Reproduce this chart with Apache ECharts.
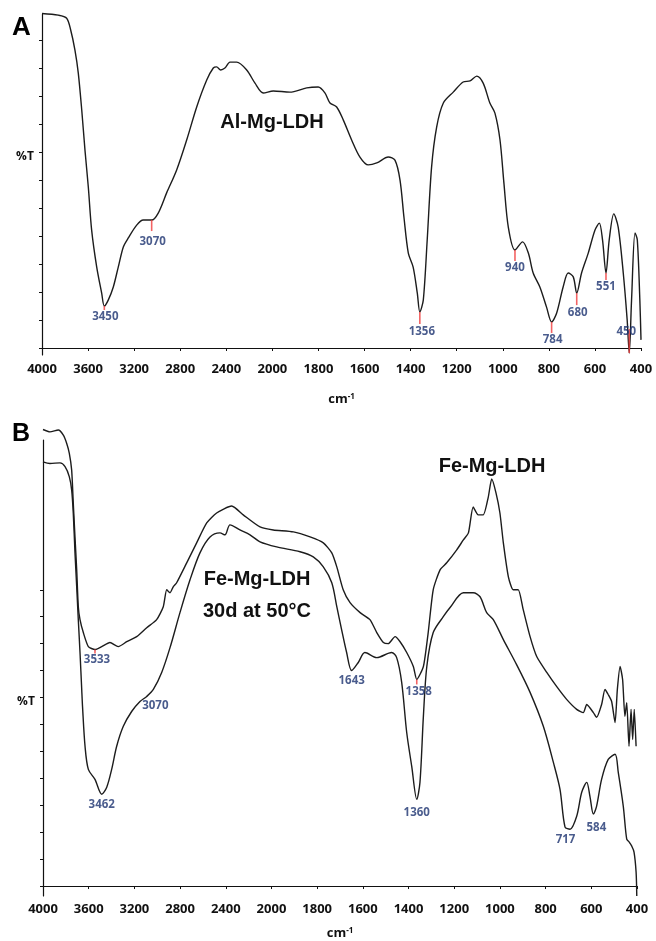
<!DOCTYPE html>
<html>
<head>
<meta charset="utf-8">
<script src="https://cdn.jsdelivr.net/npm/echarts@6/dist/echarts.min.js"></script>
<style>
  html, body { margin: 0; padding: 0; background: #fff; }
  #chart { width: 656px; height: 941px; }
</style>
</head>
<body>
<div id="chart"></div>
<script>
// wavenumber ticks (the axis is stretched x2 below 2000 cm-1)
var tickLabels = [4000, 3600, 3200, 2800, 2400, 2000, 1800, 1600, 1400, 1200, 1000, 800, 600, 400]
var yTicks = [0, 10, 20, 30, 40, 50, 60, 70, 80, 90, 100, 110]

// A: Al-Mg-LDH
var alWn = [4000, 3859, 3786, 3751, 3714, 3685, 3655, 3627, 3598, 3569, 3525, 3482, 3459, 3425, 3381, 3338, 3294, 3251, 3178, 3121,
  3048, 2991, 2918, 2831, 2744, 2657, 2570, 2513, 2484, 2449, 2412, 2368, 2310, 2223, 2151, 2079, 1996, 1924, 1851, 1801,
  1772, 1750, 1721, 1692, 1656, 1620, 1584, 1547, 1497, 1468, 1446, 1429, 1410, 1389, 1371, 1360, 1345, 1328, 1309, 1287,
  1258, 1215, 1172, 1142, 1113, 1085, 1056, 1034, 1012, 995, 976, 947, 914, 889, 868, 839, 810, 788, 766, 738,
  716, 694, 679, 658, 629, 600, 581, 567, 552, 538, 518, 499, 477, 460, 451, 441, 426, 416, 405, 400]
var alT = [119.5, 118.9, 117.8, 113.6, 106.4, 98.2, 85, 70.7, 57.5, 42.1, 28.9, 19.6, 15, 17.1, 21.8, 28.9, 36.1, 39.3, 43.9, 45.7,
  45.7, 48.2, 55.4, 63.6, 74.3, 86.1, 95.7, 100, 100.4, 99.3, 100, 102.1, 102.1, 99.3, 94.6, 91.1, 91.8, 91.4, 92.9, 93.2,
  91.1, 87.5, 86.1, 81.4, 74.3, 68.2, 65.4, 66.1, 68.2, 67.1, 60, 46.8, 33.9, 28.9, 19.6, 12.9, 17.1, 38.6, 64.6, 78.9,
  87.5, 91.4, 95, 95.4, 97.1, 94.6, 87.5, 83.9, 74.3, 58.9, 43.2, 35, 37.9, 33.9, 26.8, 21.8, 14.6, 9.3, 12.5, 21.8,
  26.8, 25.4, 19.6, 26.8, 33.9, 42.1, 44.6, 38.6, 26.8, 38.6, 47.9, 43.2, 26.8, 10, -1.8, 17.1, 41.1, 38.6, 17.1, 2.9]

// B: Fe-Mg-LDH
var feWn = [4000, 3939, 3866, 3822, 3793, 3770, 3749, 3735, 3720, 3705, 3691, 3676, 3647, 3603, 3545, 3486, 3414, 3341, 3267, 3180,
  3092, 3005, 2947, 2917, 2888, 2860, 2830, 2742, 2655, 2567, 2480, 2348, 2247, 2100, 1992, 1904, 1831, 1773, 1736, 1714,
  1686, 1656, 1612, 1569, 1539, 1510, 1489, 1459, 1437, 1408, 1379, 1364, 1335, 1314, 1292, 1262, 1233, 1189, 1160, 1138,
  1117, 1095, 1073, 1051, 1036, 1017, 1000, 985, 963, 942, 920, 898, 868, 839, 795, 752, 708, 664, 635, 620,
  591, 577, 555, 540, 526, 511, 496, 486, 474, 463, 453, 445, 435, 426, 419, 412, 404]
var feT = [169.5, 168.6, 169.3, 167.4, 164.4, 160.7, 154.4, 142.2, 129.6, 117.4, 103.7, 98.9, 94.1, 88.9, 87.8, 88.9, 90.4, 88.9, 90.7, 92.6,
  95.9, 98.9, 103.7, 110, 108.9, 111.1, 112.6, 120, 127.4, 134.8, 138.5, 141.1, 137.8, 133.3, 132.2, 131.5, 129.6, 127.4, 123.7, 118.5,
  110, 105.2, 101.5, 98.9, 94.1, 90.4, 90, 92.6, 90.7, 86.7, 81.5, 76.7, 81.5, 94.1, 110, 117.4, 120, 124.8, 128.5, 131.1,
  140.7, 137.8, 137.8, 144.4, 151.1, 145.9, 138.5, 127.4, 114.8, 110, 110, 102.6, 92.6, 85.2, 79.3, 74.1, 69.3, 65.6, 64.4, 67.4,
  64.4, 62.6, 67.4, 73, 71.1, 68.5, 60.7, 73, 81.5, 76.7, 63, 68.1, 51.9, 65.6, 54.4, 65.6, 51.9]

// B: Fe-Mg-LDH 30d at 50°C
var fe30Wn = [4000, 3939, 3851, 3807, 3770, 3749, 3735, 3720, 3705, 3691, 3676, 3661, 3654, 3632, 3603, 3545, 3486, 3442, 3399, 3355,
  3297, 3224, 3151, 3092, 3034, 2961, 2888, 2801, 2713, 2626, 2538, 2451, 2407, 2363, 2276, 2188, 2100, 1977, 1875, 1817,
  1773, 1736, 1714, 1693, 1671, 1649, 1620, 1591, 1539, 1474, 1452, 1430, 1408, 1386, 1364, 1350, 1335, 1320, 1292, 1248,
  1219, 1160, 1117, 1087, 1058, 1029, 985, 927, 868, 810, 766, 737, 715, 693, 664, 642, 620, 606, 591, 577,
  555, 526, 496, 482, 460, 445, 434, 423, 413, 404, 401]
var fe30T = [157.5, 156.9, 157.1, 155.7, 152, 147, 138.5, 123.7, 111.1, 98.9, 86.7, 73, 66.7, 51.9, 43.3, 39.6, 34.1, 36.7, 43.3, 51.9,
  59.3, 64.8, 68.5, 70.4, 73, 79.3, 88.5, 101.5, 113.7, 123.7, 129.6, 131.1, 130.4, 134.1, 132.2, 130.4, 127.8, 125.9, 124.1, 122.2,
  118.5, 112.6, 103.7, 95.2, 86.7, 80, 83, 86.7, 84.8, 86.7, 84.8, 75.6, 57, 44.4, 32.2, 38.5, 63, 81.5, 94.1, 100,
  103.3, 108.9, 108.9, 107.4, 101.5, 98.9, 91.5, 82.2, 71.9, 59.3, 45.9, 35.9, 21.9, 21.1, 25.9, 34.8, 38.5, 33.3, 26.7, 29.6,
  39.6, 47, 48.9, 42.2, 29.6, 17.4, 16.3, 14.8, 12.6, 5.2, -3.7]

// peak labels (text, and the point of the trace they sit under)
var peakTextA = ['3450', '3070', '1356', '940', '784', '680', '551', '450']
var peakWnA = [3459, 3048, 1360, 947, 788, 679, 552, 451]
var peakTA = [15, 45.7, 12.9, 35, 9.3, 19.6, 26.8, -1.8]
var peakTextB = ['3533', '3462', '3070', '1643', '1358', '1360', '717', '584']
var peakWnB = [3545, 3486, 3034, 1649, 1364, 1364, 704, 591]
var peakTB = [87.8, 34.1, 73, 80, 76.7, 32.2, 21.1, 26.7]

// label offsets / red marker lengths (px)
var offA = [[1, 11], [1, 22], [2, 20], [0, 18], [1, 18], [1, 20], [0, 14], [-3, -21]]
var tickA = [4, 11, 12, 11, 11, 12, 7, -24]
var offB = [[2, 10], [0, 11], [2, 16], [0, 10], [2, 12], [0, 13], [-2, 11], [3, 14]]
var tickB = [4, 0, 0, 0, 5, 0, 0, 0]

// stretch below 2000: axis value t
function tx (wn) {
  return wn > 2000 ? 2000 + (wn - 2000) / 2 : wn
}
function pairs (wn, t) {
  return wn.map(function (w, i) { return [tx(w), t[i]] })
}

var font = '"Open Sans", "Liberation Sans", sans-serif'
var lineColor = '#1c1c1c'

function xAx (gi, gap, margin) {
  return {
    gridIndex: gi,
    type: 'value',
    inverse: true,
    min: 400,
    max: 3000,
    interval: 200,
    name: '{a|cm}{b|-1}',
    nameLocation: 'middle',
    nameGap: gap,
    nameTextStyle: {
      rich: {
        a: { fontSize: 13, fontWeight: 'bold', fontFamily: font, color: '#111' },
        b: { fontSize: 8, fontWeight: 'bold', fontFamily: font, color: '#111', verticalAlign: 'top' }
      }
    },
    axisLine: { lineStyle: { color: '#111', width: 1.2 } },
    axisTick: { length: 3, lineStyle: { color: '#111' } },
    splitLine: { show: false },
    axisLabel: {
      margin: margin,
      fontSize: 13,
      fontWeight: 'bold',
      fontFamily: font,
      color: '#111',
      formatter: function (v) {
        return v > 2000 ? 2000 + (v - 2000) * 2 : v
      }
    }
  }
}

function yAx (gi, min, max) {
  return {
    gridIndex: gi,
    type: 'value',
    min: min,
    max: max,
    axisLine: { show: true, lineStyle: { color: '#111', width: 1.2 } },
    axisTick: { show: true, length: 3, customValues: yTicks, lineStyle: { color: '#111' } },
    axisLabel: { show: false },
    splitLine: { show: false }
  }
}

function trace (wn, t, gi, smooth) {
  return {
    type: 'line',
    xAxisIndex: gi,
    yAxisIndex: gi,
    data: pairs(wn, t),
    showSymbol: false,
    smooth: smooth,
    clip: false,
    lineStyle: { color: lineColor, width: 1.4 },
    z: 3
  }
}

function peakLabels (text, wn, t, off, gi) {
  return {
    type: 'scatter',
    xAxisIndex: gi,
    yAxisIndex: gi,
    symbolSize: 1,
    itemStyle: { color: 'rgba(0,0,0,0)' },
    z: 5,
    data: text.map(function (s, i) {
      return {
        value: [tx(wn[i]), t[i]],
        label: {
          show: true,
          position: 'inside',
          offset: off[i],
          formatter: s,
          fontSize: 11.5,
          fontWeight: 'bold',
          fontFamily: font,
          color: '#1d3370'
        }
      }
    })
  }
}

function peakTicks (wn, t, len, gi) {
  var data = []
  wn.forEach(function (w, i) {
    if (!len[i]) return
    data.push({
      value: [tx(w), t[i]],
      symbolSize: [1.6, Math.abs(len[i])],
      symbolOffset: [0, len[i] / 2]
    })
  })
  return {
    type: 'scatter',
    xAxisIndex: gi,
    yAxisIndex: gi,
    symbol: 'rect',
    itemStyle: { color: '#f03c3c' },
    z: 4,
    data: data
  }
}

var chart = echarts.init(document.getElementById('chart'))
chart.setOption({
  animation: false,
  backgroundColor: '#fff',
  grid: [
    { left: 42, right: 15, top: 14, height: 341 },
    { left: 43, right: 19, top: 440, height: 457 }
  ],
  xAxis: [xAx(0, 38, 8), xAx(1, 31, 7)],
  yAxis: [yAx(0, -2.5, 119.3), yAx(1, -3.7, 165.6)],
  series: [
    trace(alWn, alT, 0, 0.3),
    trace(feWn, feT, 1, 0.2),
    trace(fe30Wn, fe30T, 1, 0.3),
    peakTicks(peakWnA, peakTA, tickA, 0),
    peakTicks(peakWnB, peakTB, tickB, 1),
    peakLabels(peakTextA, peakWnA, peakTA, offA, 0),
    peakLabels(peakTextB, peakWnB, peakTB, offB, 1)
  ],
  graphic: [
    { type: 'text', x: 12, y: 28, style: { text: 'A', font: 'bold 26px "Liberation Sans", Arial, sans-serif', fill: '#000', align: 'left', verticalAlign: 'middle' } },
    { type: 'text', x: 12, y: 434, style: { text: 'B', font: 'bold 25px "Liberation Sans", Arial, sans-serif', fill: '#000', align: 'left', verticalAlign: 'middle' } },
    { type: 'text', x: 25, y: 157, style: { text: '%T', font: 'bold 12px ' + font, fill: '#111', align: 'center', verticalAlign: 'middle' } },
    { type: 'text', x: 26, y: 702, style: { text: '%T', font: 'bold 12px ' + font, fill: '#111', align: 'center', verticalAlign: 'middle' } },
    { type: 'text', x: 272, y: 122, style: { text: 'Al-Mg-LDH', font: 'bold 20px "Liberation Sans", Arial, sans-serif', fill: '#111', align: 'center', verticalAlign: 'middle' } },
    { type: 'text', x: 492, y: 466, style: { text: 'Fe-Mg-LDH', font: 'bold 20px "Liberation Sans", Arial, sans-serif', fill: '#111', align: 'center', verticalAlign: 'middle' } },
    { type: 'text', x: 257, y: 579, style: { text: 'Fe-Mg-LDH', font: 'bold 20px "Liberation Sans", Arial, sans-serif', fill: '#111', align: 'center', verticalAlign: 'middle' } },
    { type: 'text', x: 257, y: 611, style: { text: '30d at 50°C', font: 'bold 20px "Liberation Sans", Arial, sans-serif', fill: '#111', align: 'center', verticalAlign: 'middle' } }
  ]
})
</script>
</body>
</html>
